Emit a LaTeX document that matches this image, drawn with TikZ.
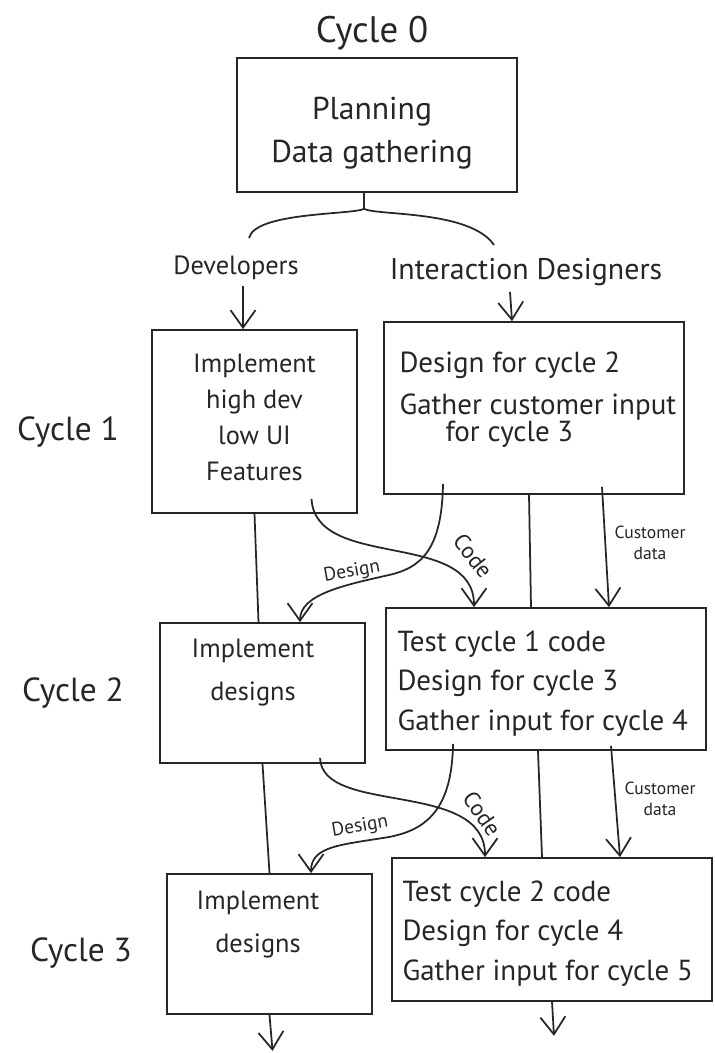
\documentclass[tikz,border=0pt]{standalone}
\usepackage{fontspec}
\setmainfont{PT Sans}
\usetikzlibrary{positioning,arrows.meta}
\colorlet{ink}{black!85}
\begin{document}
\begin{tikzpicture}[x=0.02cm,y=-0.02cm,
    every node/.style={text=ink},
    box/.style={draw=ink,line width=1pt},
    txt/.style={inner sep=0pt,font=\fontsize{15}{22}\selectfont},
    txtw/.style={inner sep=0pt,font=\fontsize{16.5}{22.5}\selectfont},
    cyc/.style={font=\fontsize{19}{22}\selectfont},
    lbl/.style={font=\fontsize{11}{12}\selectfont},
    con/.style={draw=ink,line width=1pt},
    arr/.style={con,-{Straight Barb[length=3.5mm,width=5mm]}}]
    \useasboundingbox (0,0) rectangle (714,1053);
    \node (plan) [box,minimum width=5.6cm,minimum height=2.68cm] at (377,125) {};
    \node (c0) [cyc,font=\fontsize{21}{24}\selectfont] at (372,33) {Cycle 0};
    \node (plant) [txt,font=\fontsize{18}{24}\selectfont,align=center,below=0.8cm of plan.north,xshift=-0.1cm] {Planning\\Data gathering};
    \node (devs) [txt,inner sep=0.3333em] at (236,268) {Developers};
    \node (desg) [txt,font=\fontsize{17}{20}\selectfont,inner sep=0.3333em] at (526,272) {Interaction Designers};
    \draw[con] ([xshift=-0.26cm]plan.south) -- ++(0,16) coordinate (fork);
    \coordinate (bl) at (249,238);
    \coordinate (br) at (494,245);
    \draw[con] (fork) .. controls +(-12,6) and +(6,-26) .. (bl);
    \draw[con] (fork) .. controls +(14,7) and +(-24,-35) .. (br);

    \node (c1) [cyc] at (68,432) {Cycle 1};
    \node (dev1) [box,minimum width=4.1cm,minimum height=3.66cm] at (254.5,421.5) {};
    \node (id1) [box,minimum width=6cm,minimum height=3.44cm] at (534,408) {};
    \node (dev1t) [txt,align=center,below=0.5cm of dev1.north] {Implement\\[-1.5pt]high dev\\[-1.5pt]low UI\\[-1.5pt]Features};
    \node (id1t) [txtw,align=left,below right=0.6cm and 0.32cm of id1.north west] {Design for cycle 2\\[1.5pt]Gather customer input\\[-7pt]\hspace*{0.92cm}for cycle 3};
    \draw[arr] ([xshift=0.14cm]devs.south) -- ([xshift=-0.23cm]dev1.north);
    \draw[arr] ([xshift=-0.32cm]desg.south) -- ([xshift=-0.44cm]id1.north);

    \node (c2) [cyc] at (73,693) {Cycle 2};
    \node (dev2) [box,minimum width=4.1cm,minimum height=2.8cm] at (262.5,693) {};
    \node (id2) [box,minimum width=6.4cm,minimum height=2.84cm] at (546,679) {};
    \node (dev2t) [txt,align=center,below=0.34cm of dev2.north,xshift=-0.19cm] {Implement\\[2pt]designs};
    \node (id2t) [txtw,align=left,below right=0.46cm and 0.24cm of id2.north west] {Test cycle 1 code\\Design for cycle 3\\Gather input for cycle 4};
    \draw[con] (dev1.south) -- ([xshift=-0.08cm]dev2.north);
    \draw[arr] ([shift={(57,-15)}]dev1.south) .. controls +(4,72) and +(0,-78) .. ([shift={(-72,0)}]id2.north);
    \draw[arr] ([shift={(-91,-11)}]id1.south) .. controls +(-1,67) and +(31,-7) .. (389,575) .. controls +(-44,10) and +(0,-28) .. ([shift={(37.5,0)}]dev2.north);
    \draw[con] ([shift={(-5,0)}]id1.south) -- ([shift={(-15,0)}]id2.north);
    \draw[arr] ([shift={(68,-8)}]id1.south) -- ([shift={(63,0)}]id2.north);
    \node (des1) [lbl,rotate=10] at (352,572) {Design};
    \node (code1) [lbl,font=\fontsize{13}{14}\selectfont,rotate=-52] at (473,556) {Code};
    \node (cd1) [lbl,font=\fontsize{10}{12}\selectfont,align=center] at (650,543) {Customer\\data};

    \node (c3) [cyc] at (81,953) {Cycle 3};
    \node (dev3) [box,minimum width=4.1cm,minimum height=2.8cm] at (269.5,944) {};
    \node (id3) [box,minimum width=6.4cm,minimum height=2.86cm] at (552,929.5) {};
    \node (dev3t) [txt,align=center,below=0.36cm of dev3.north,xshift=-0.23cm] {Implement\\[2pt]designs};
    \node (id3t) [txtw,align=left,below right=0.46cm and 0.22cm of id3.north west] {Test cycle 2 code\\Design for cycle 4\\Gather input for cycle 5};
    \draw[con] (dev2.south) -- (dev3.north);
    \draw[arr] ([shift={(57.5,-6)}]dev2.south) .. controls +(2,58) and +(0,-78) .. ([shift={(-67,0)}]id3.north);
    \draw[arr] ([shift={(-93,-7)}]id2.south) .. controls +(-1,67) and +(36,-7) .. (389,837) .. controls +(-49,8) and +(0,-27) .. ([shift={(41.5,0)}]dev3.north);
    \draw[con] ([shift={(-8,0)}]id2.south) -- ([shift={(-10,0)}]id3.north);
    \draw[arr] ([shift={(65,-5)}]id2.south) -- ([shift={(68,0)}]id3.north);
    \node (des2) [lbl,rotate=10] at (360,827) {Design};
    \node (code2) [lbl,font=\fontsize{13}{14}\selectfont,rotate=-55] at (482,814) {Code};
    \node (cd2) [lbl,font=\fontsize{10}{12}\selectfont,align=center] at (660,799) {Customer\\data};

    \draw[arr] (dev3.south) -- ++(3,36);
    \draw[arr] (id3.south) -- ++(2,34);
\end{tikzpicture}
\end{document}
